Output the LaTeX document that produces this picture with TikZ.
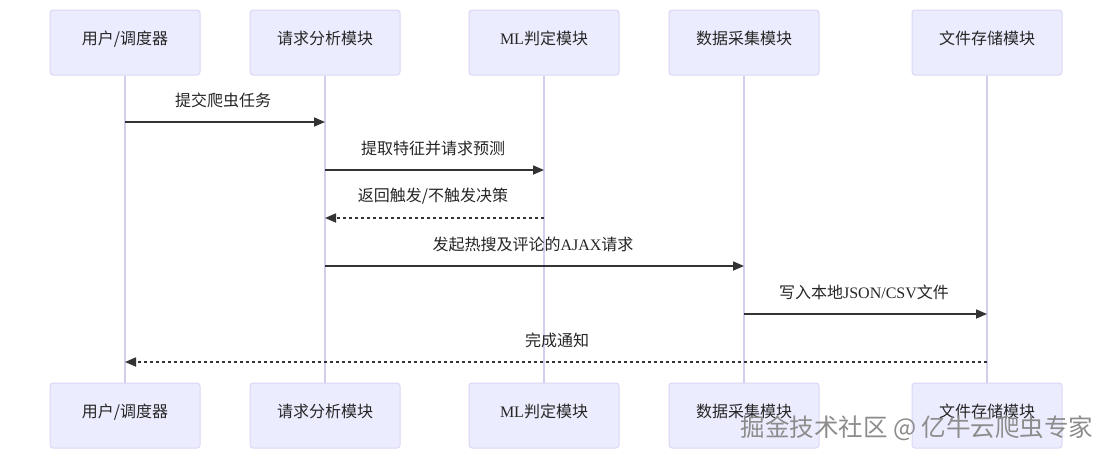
\documentclass[tikz,border=0pt]{standalone}
\usepackage{fontspec}
\setmainfont{Noto Sans CJK SC}
\newfontfamily\lat{Liberation Serif}
\usetikzlibrary{arrows.meta}
\definecolor{actorfill}{HTML}{ECECFF}
\definecolor{actorline}{HTML}{DCD6F5}
\definecolor{lifeclr}{HTML}{D3CDEE}
\definecolor{msgclr}{HTML}{333333}
\begin{document}
\begin{tikzpicture}[x=1pt,y=-1pt,
  actor/.style={draw=actorline, fill=actorfill, rounded corners=3pt, minimum width=150pt, minimum height=65pt, line width=1pt, inner sep=0pt, text height=10pt, text depth=5.6pt, font=\fontsize{16}{19}\selectfont, text=black!85},
  life/.style={draw=lifeclr, line width=1.3pt},
  msgline/.style={draw=msgclr, line width=1.7pt, -{Triangle[length=11pt,width=9pt]}},
  reply/.style={msgline, dash pattern=on 3pt off 3pt},
  lbl/.style={font=\fontsize{16}{19}\selectfont, text=black!85, anchor=center, inner sep=0pt},
  wm/.style={font=\fontsize{24.5}{28}\selectfont, text=black!45, anchor=center, inner sep=0pt}]
\useasboundingbox (0,0) rectangle (1112,459);
\fill[white] (0,0) rectangle (1112,459);
% top actors
\node[actor] (a1t) at (125,42.5) {用户/调度器};
\node[actor] (a2t) at (325,42.5) {请求分析模块};
\node[actor] (a3t) at (544,42.5) {{\lat ML}判定模块};
\node[actor] (a4t) at (744,42.5) {数据采集模块};
\node[actor] (a5t) at (987,42.5) {文件存储模块};
% bottom actors
\node[actor] (a1b) at (125,415.5) {用户/调度器};
\node[actor] (a2b) at (325,415.5) {请求分析模块};
\node[actor] (a3b) at (544,415.5) {{\lat ML}判定模块};
\node[actor] (a4b) at (744,415.5) {数据采集模块};
\node[actor] (a5b) at (987,415.5) {文件存储模块};
% lifelines
\foreach \i in {1,...,5} {
  \draw[life] (a\i t.south) -- (a\i b.north);
}
% message endpoints on lifelines
\coordinate (m1s) at (125,122); \coordinate (m1e) at (325,122);
\coordinate (m2s) at (325,170); \coordinate (m2e) at (544,170);
\coordinate (m3s) at (544,218); \coordinate (m3e) at (325,218);
\coordinate (m4s) at (325,266); \coordinate (m4e) at (744,266);
\coordinate (m5s) at (744,314); \coordinate (m5e) at (987,314);
\coordinate (m6s) at (987,362); \coordinate (m6e) at (125,362);
% messages
\draw[msgline] (m1s) -- (m1e);
\node[lbl] (l1) at (223,100) {提交爬虫任务};
\draw[msgline] (m2s) -- (m2e);
\node[lbl] (l2) at (433,148) {提取特征并请求预测};
\draw[reply] (m3s) -- (m3e);
\node[lbl] (l3) at (433,196) {返回触发/不触发决策};
\draw[msgline] (m4s) -- (m4e);
\node[lbl] (l4) at (533,244) {发起热搜及评论的{\lat AJAX}请求};
\draw[msgline] (m5s) -- (m5e);
\node[lbl] (l5) at (864,292) {写入本地{\lat JSON/CSV}文件};
\draw[reply] (m6s) -- (m6e);
\node[lbl] (l6) at (557,340) {完成通知};
% watermark
\node[wm] (wm) at (917,428) {掘金技术社区 @ 亿牛云爬虫专家};
\end{tikzpicture}
\end{document}
